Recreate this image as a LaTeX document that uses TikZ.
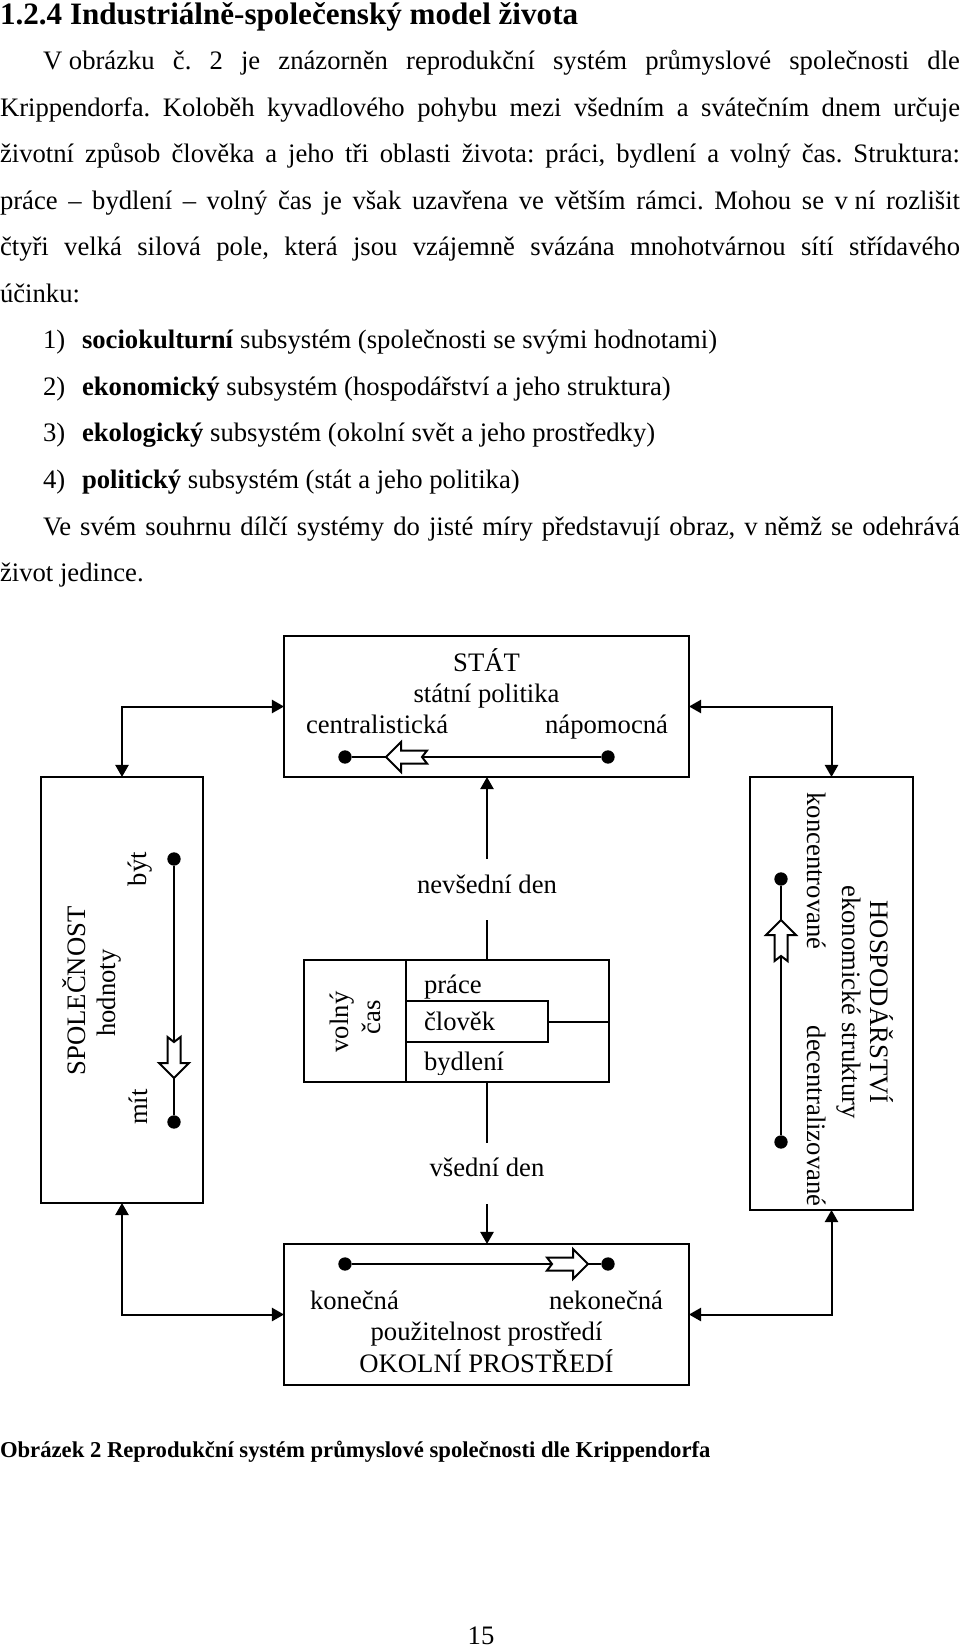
\documentclass[tikz,border=0pt]{standalone}
\usepackage{fontspec}
\setmainfont{Liberation Serif}
\usetikzlibrary{arrows.meta}
\frenchspacing
\newcommand{\harrow}[2]{\draw[hollow,shift={(#1)},rotate=#2] (0,0) -- (-15,-15) -- (-15,-6.5) -- (-41,-6.5) -- (-36,0) -- (-41,6.5) -- (-15,6.5) -- (-15,15) -- cycle;}
\begin{document}
\begin{tikzpicture}[x=0.45pt,y=-0.45pt,
 line width=0.9pt,
 every node/.style={inner sep=0pt, outer sep=0pt},
 twelve/.style={font=\fontsize{12}{14.4}\selectfont},
 lbl/.style={twelve, anchor=base},
 para/.style={twelve, anchor=base west},
 box/.style={draw, line width=0.9pt, rectangle},
 dot/.style={circle, fill=black, minimum size=6pt},
 tri/.style={-{Triangle[length=5.5pt,width=6pt]}},
 dtri/.style={{Triangle[length=5.5pt,width=6pt]}-{Triangle[length=5.5pt,width=6pt]}},
 hollow/.style={draw, fill=white, line width=0.9pt, line join=miter},
]
\useasboundingbox (0,0) rectangle (960,1648);

% ---------- text ----------
\node[anchor=base west, font=\fontsize{14}{16}\selectfont\bfseries] (title) at (0,25) {1.2.4 Industriálně-společenský model života};

\node[para] (p1) at (43,70) {\makebox[412.65pt][s]{V\kern3pt obrázku č. 2 je znázorněn reprodukční systém průmyslové společnosti dle}};
\node[para] (p2) at (0,116.5) {\makebox[432pt][s]{Krippendorfa. Koloběh kyvadlového pohybu mezi všedním a svátečním dnem určuje}};
\node[para] (p3) at (0,163) {\makebox[432pt][s]{životní způsob člověka a jeho tři oblasti života: práci, bydlení a volný čas. Struktura:}};
\node[para] (p4) at (0,209.5) {\makebox[432pt][s]{práce – bydlení – volný čas je však uzavřena ve větším rámci. Mohou se v\kern3pt ní rozlišit}};
\node[para] (p5) at (0,256) {\makebox[432pt][s]{čtyři velká silová pole, která jsou vzájemně svázána mnohotvárnou sítí střídavého}};
\node[para] (p6) at (0,302.5) {účinku:};

\node[para] (n1) at (43,349) {1)};
\node[para] (i1) at (82,349) {\textbf{sociokulturní} subsystém (společnosti se svými hodnotami)};
\node[para] (n2) at (43,395.5) {2)};
\node[para] (i2) at (82,395.5) {\textbf{ekonomický} subsystém (hospodářství a jeho struktura)};
\node[para] (n3) at (43,442) {3)};
\node[para] (i3) at (82,442) {\textbf{ekologický} subsystém (okolní svět a jeho prostředky)};
\node[para] (n4) at (43,488.5) {4)};
\node[para] (i4) at (82,488.5) {\textbf{politický} subsystém (stát a jeho politika)};

\node[para] (q1) at (43,535) {\makebox[412.65pt][s]{Ve svém souhrnu dílčí systémy do jisté míry představují obraz, v\kern3pt němž se odehrává}};
\node[para] (q2) at (0,581.5) {život jedince.};

% ---------- boxes ----------
\node[box, minimum width=182.25pt, minimum height=63.45pt] (stat) at (486.5,706.5) {};
\node[box, minimum width=72.9pt, minimum height=191.7pt] (lbox) at (122,990) {};
\node[box, minimum width=73.35pt, minimum height=194.85pt] (rbox) at (831.5,993.5) {};
\node[box, minimum width=182.25pt, minimum height=63.45pt] (okol) at (486.5,1314.5) {};
\node[box, minimum width=137.25pt, minimum height=54.9pt] (cbox) at (456.5,1021) {};
\node[box, minimum width=45.9pt, minimum height=54.9pt] (vbox) at (355,1021) {};
\node[box, minimum width=63.9pt, minimum height=18.45pt] (clov) at (477,1021.5) {};
\draw (clov.east) -- (clov.east -| cbox.east);

% ---------- connectors ----------
\draw[dtri] (stat.west) -| (lbox.north);
\draw[dtri] (stat.east) -| (rbox.north);
\draw[dtri] (lbox.south) |- (okol.west);
\draw[dtri] (rbox.south) |- (okol.east);

\coordinate (nt) at (487,859);
\draw[tri] (nt) -- (nt |- stat.south);
\coordinate (nb) at (487,920);
\draw (nb) -- (nb |- cbox.north);
\coordinate (vt) at (487,1143);
\draw (vt |- cbox.south) -- (vt);
\coordinate (vb) at (487,1204);
\draw[tri] (vb) -- (vb |- okol.north);

% ---------- dot scales ----------
\node[dot] (sd1) at (345,757) {};
\node[dot] (sd2) at (608,757) {};
\draw (sd1) -- (sd2);
\coordinate (sa) at (386,757);
\harrow{sa}{180}

\node[dot] (od1) at (345,1264) {};
\node[dot] (od2) at (608,1264) {};
\draw (od1) -- (od2);
\coordinate (oa) at (588,1264);
\harrow{oa}{0}

\node[dot] (ld1) at (174,859) {};
\node[dot] (ld2) at (174,1122) {};
\draw (ld1) -- (ld2);
\coordinate (la) at (174,1078);
\harrow{la}{-90}

\node[dot] (rd1) at (781,879) {};
\node[dot] (rd2) at (781,1142) {};
\draw (rd1) -- (rd2);
\coordinate (ra) at (781,920);
\harrow{ra}{90}

% ---------- labels ----------
\node[lbl] (tstat) at (486.5,671) {STÁT};
\node[lbl] (tpol) at (486.5,702) {státní politika};
\node[lbl, anchor=base west] (tcen) at (306,733) {centralistická};
\node[lbl, anchor=base east] (tnap) at (668,733) {nápomocná};

\node[lbl, anchor=base west] (tkon) at (310,1309) {konečná};
\node[lbl, anchor=base east] (tnek) at (663,1309) {nekonečná};
\node[lbl] (tpou) at (486.5,1340) {použitelnost prostředí};
\node[lbl] (tokol) at (486.5,1372) {OKOLNÍ PROSTŘEDÍ};

\node[lbl] (tnev) at (487,893) {nevšední den};
\node[lbl] (tvse) at (487,1176) {všední den};
\node[lbl, anchor=base west] (tpra) at (424,993) {práce};
\node[lbl, anchor=base west] (tclo) at (424,1030) {člověk};
\begin{scope}
\clip (406,1044) rectangle (609,1074);
\node[lbl, anchor=base west] (tbyd) at (424,1070) {bydlení};
\end{scope}

\node[lbl, rotate=90] (tvol) at (348,1022) {volný};
\node[lbl, rotate=90] (tcas) at (380,1017) {čas};

\node[lbl, rotate=90] (tspo) at (85,991) {SPOLEČNOST};
\node[lbl, rotate=90] (thod) at (115,993) {hodnoty};
\node[lbl, rotate=90] (tbyt) at (146,869) {být};
\node[lbl, rotate=90] (tmit) at (147,1107) {mít};

\node[lbl, rotate=-90] (thos) at (870,1002) {HOSPODÁŘSTVÍ};
\node[lbl, rotate=-90] (teko) at (842,1002) {ekonomické struktury};
\node[lbl, rotate=-90] (tkonc) at (807,871) {koncentrované};
\node[lbl, rotate=-90] (tdec) at (807,1116) {decentralizované};

% ---------- caption ----------
\node[anchor=base west, font=\fontsize{10.2}{12}\selectfont\bfseries] (cap) at (0,1457) {Obrázek 2 Reprodukční systém průmyslové společnosti dle Krippendorfa};
\node[lbl] (pg) at (481,1644) {15};
\end{tikzpicture}
\end{document}
